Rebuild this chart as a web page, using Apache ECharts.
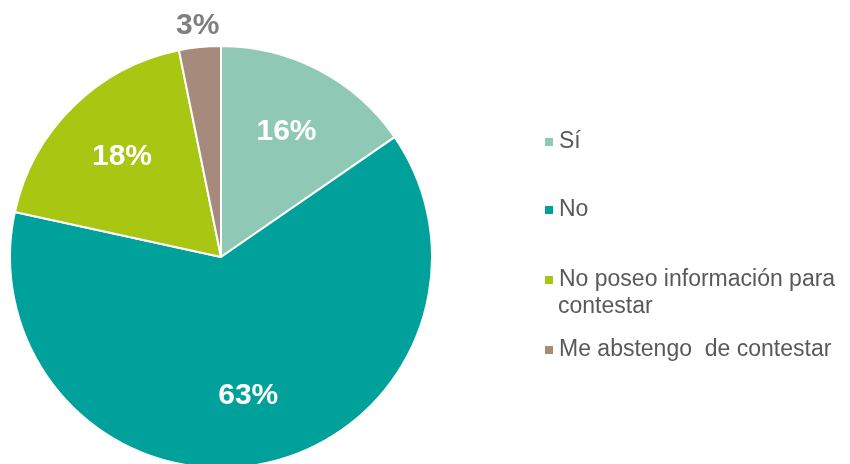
<!DOCTYPE html>
<html>
<head>
<meta charset="utf-8">
<script src="https://cdn.jsdelivr.net/npm/echarts@6/dist/echarts.min.js"></script>
<style>
  html, body { margin: 0; padding: 0; background: #fff; }
  #chart { width: 850px; height: 464px; }
</style>
</head>
<body>
<div id="chart"></div>
<script>
// categories and slice shares
const categories = ['Sí', 'No', 'No poseo información para contestar', 'Me abstengo  de contestar'];
const values = [15.4, 63.1, 18.4, 3.2];
// labels as printed on the chart
const pctLabels = ['16%', '63%', '18%', '3%'];
const colors = ['#8fc9b5', '#00a19a', '#a9c613', '#a68b7c'];

const font = 'Arial, "Liberation Sans", sans-serif';
const center = [221, 257];

const mainData = categories.map((name, i) => ({
  name,
  value: values[i],
  itemStyle: { color: colors[i] }
}));

// transparent overlays only carry the percentage labels
const innerLabels = categories.map((name, i) => ({
  name,
  value: values[i],
  label: { show: i < 3 }
}));
const outerLabels = categories.map((name, i) => ({
  name,
  value: values[i],
  label: { show: i === 3 }
}));

const legendTops = [130, 198, 268, 338];
const legends = categories.map((name, i) => ({
  data: [name],
  left: 543,
  top: legendTops[i],
  padding: 0,
  icon: 'rect',
  itemWidth: 10,
  itemHeight: 10,
  selectedMode: false,
  formatter: i === 2 ? 'No poseo información para' : '{name}',
  textStyle: { fontSize: 23, lineHeight: 24, color: '#595959', fontFamily: font }
}));

const chart = echarts.init(document.getElementById('chart'));
chart.setOption({
  animation: false,
  legend: legends,
  graphic: [{
    type: 'text',
    left: 558,
    top: 295,
    style: { text: 'contestar', fontSize: 23, fill: '#595959', fontFamily: font }
  }],
  series: [
    {
      type: 'pie',
      center,
      radius: [0, 211],
      startAngle: 90,
      silent: true,
      label: { show: false },
      labelLine: { show: false },
      itemStyle: { borderColor: '#fff', borderWidth: 2 },
      data: mainData
    },
    {
      type: 'pie',
      center,
      radius: [0, 276],
      startAngle: 90,
      silent: true,
      itemStyle: { color: 'rgba(0,0,0,0)' },
      labelLine: { show: false },
      label: {
        position: 'inside',
        formatter: p => pctLabels[p.dataIndex],
        color: '#fff',
        fontSize: 30,
        fontWeight: 'bold',
        fontFamily: font
      },
      data: innerLabels
    },
    {
      type: 'pie',
      center,
      radius: [217, 242],
      startAngle: 90,
      silent: true,
      itemStyle: { color: 'rgba(0,0,0,0)' },
      labelLine: { show: false },
      label: {
        position: 'inside',
        formatter: p => pctLabels[p.dataIndex],
        color: '#7f7f7f',
        fontSize: 30,
        fontWeight: 'bold',
        fontFamily: font
      },
      data: outerLabels
    }
  ]
});
</script>
</body>
</html>
